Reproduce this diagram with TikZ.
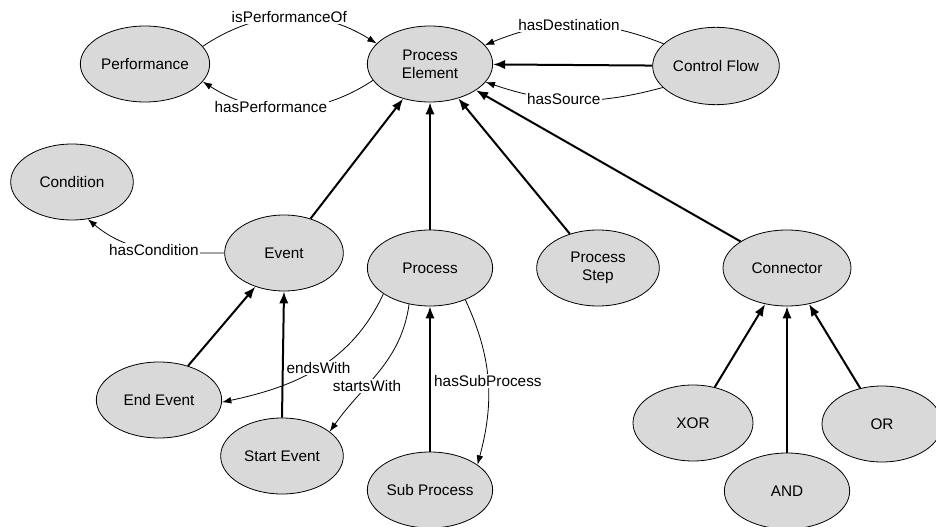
\documentclass[tikz,border=0pt]{standalone}
\usepackage{fontspec}
\setmainfont{Liberation Sans}
\usetikzlibrary{shapes,arrows.meta}

\begin{document}
\begin{tikzpicture}[
  x=0.75pt, y=0.75pt,
  font=\fontsize{11.5}{13.5}\selectfont,
  concept/.style={
    ellipse,
    fill=black!15,
    draw=black,
    line width=0.6pt,
    minimum height=57pt, minimum width=94pt,
    inner sep=0pt,
    align=center
  },
  isa/.style={
    -{Latex[length=9pt,width=7pt]},
    line width=1.5pt
  },
  relation/.style={
    -{Latex[length=7pt,width=5pt]},
    line width=0.6pt
  },
  relation label/.style={
    fill=white,
    inner sep=1pt
  }
  ]
\useasboundingbox (0,0) rectangle (936,526);
% Top row
\node [concept, minimum width=97pt] (performance) at (145,462) {Performance};
\node [concept] (process element) at (430,462) {Process\\Element};
\node [concept, minimum width=95pt, minimum height=58pt] (control flow) at (716,460) {Control Flow};
% Middle row
\node [concept, minimum width=92pt] (condition) at (72,344) {Condition};
\node [concept, minimum width=89pt] (event) at (284,273) {Event};
\node [concept] (process) at (430,258) {Process};
\node [concept, minimum width=92pt] (process step) at (598,258) {Process\\Step};
\node [concept, minimum width=96pt] (connector) at (787,258) {Connector};
% Bottom row
\node [concept] (end event) at (159,126) {End Event};
\node [concept, minimum width=92pt] (start event) at (282,70) {Start Event};
\node [concept] (sub process) at (430,36) {Sub Process};
\node [concept, minimum width=90pt] (xor) at (693,103) {XOR};
\node [concept] (and) at (787,35) {AND};
\node [concept, minimum width=90pt] (or) at (882,102) {OR};
% Subclasses
\draw [isa] (event) -- (process element);
\draw [isa] (process) -- (process element);
\draw [isa] (process step) -- (process element);
\draw [isa] (connector) -- (process element);
\draw [isa] (control flow) -- (process element);
\draw [isa] (end event) -- (event);
\draw [isa] (start event.north) -- (event.south);
\draw [isa] (sub process) -- (process);
\draw [isa] (xor) -- (connector);
\draw [isa] (and) -- (connector);
\draw [isa] (or) -- (connector);
% Relations
\draw [relation] (performance.17) to[bend left=33] node[relation label] {isPerformanceOf} (process element.159);
\draw [relation] (process element.196) to[bend left=33] node[relation label, pos=0.6] {hasPerformance} (performance.343);
\draw [relation] (control flow.157) to[bend right=22] node[relation label, pos=0.53] {hasDestination} (process element.19);
\draw [relation] (control flow.202) to[bend left=17] node[relation label, pos=0.56] {hasSource} (process element.342);
\draw [relation] (event.west) to[out=180,in=-40] node[relation label, pos=0.48] {hasCondition} (condition.293);
\draw [relation] (process.209) to[out=245,in=12] node[relation label, pos=0.5] {endsWith} (end event.358);
\draw [relation] (process.240) to[out=262,in=55] node[relation label, pos=0.63] {startsWith} (start event.27);
\draw [relation] (process.318) to[out=295,in=75] node[relation label] {hasSubProcess} (sub process.28);
\end{tikzpicture}
\end{document}
